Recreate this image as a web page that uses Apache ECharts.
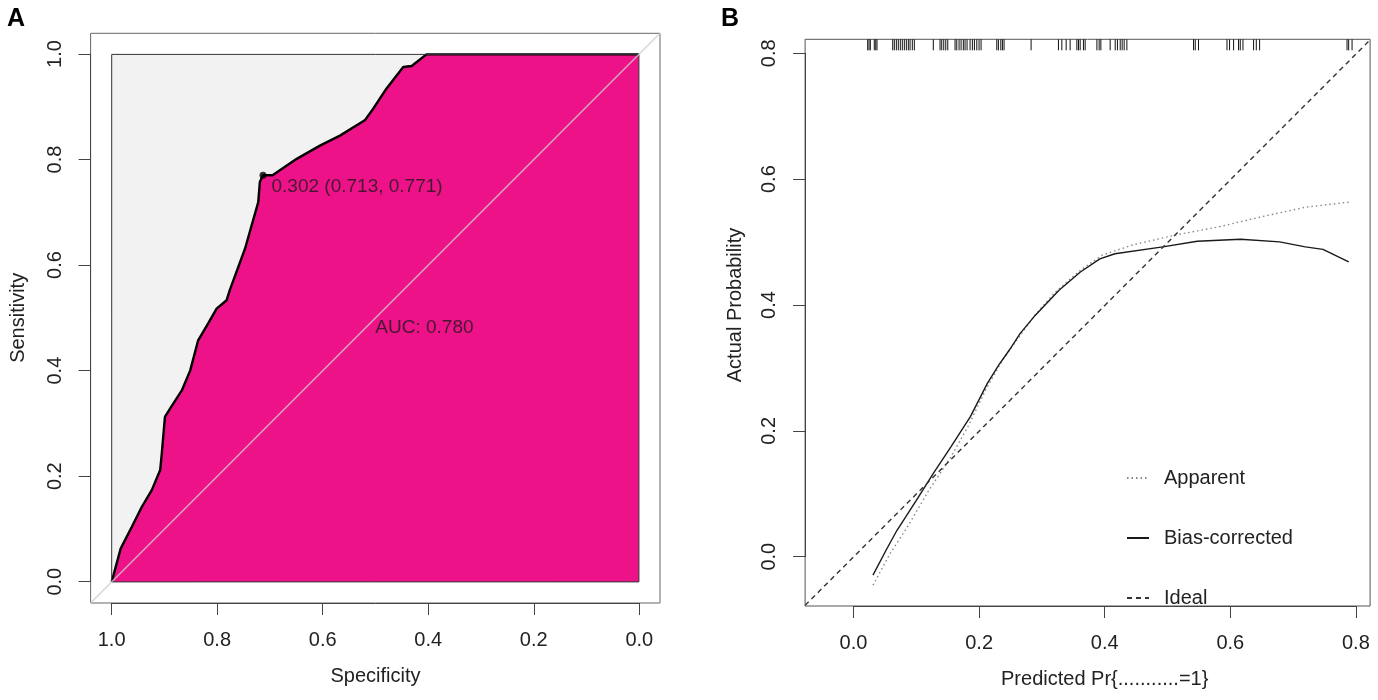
<!DOCTYPE html>
<html><head><meta charset="utf-8">
<script src="https://cdn.jsdelivr.net/npm/echarts@6/dist/echarts.min.js"></script>
<style>html,body{margin:0;padding:0;background:#fff}#c{width:1378px;height:700px}</style>
</head><body><div id="c"></div>
<script>
// ---------- Panel A: ROC ----------
const rocSpecificity = [1.000,0.983,0.962,0.943,0.924,0.908,0.905,0.899,0.889,0.867,0.851,0.836,0.817,0.801,0.782,0.776,0.747,0.722,0.719,0.713,0.695,0.649,0.605,0.567,0.520,0.504,0.479,0.447,0.431,0.403,0.000];
const rocSensitivity = [0.000,0.063,0.104,0.142,0.174,0.212,0.243,0.313,0.329,0.363,0.401,0.458,0.490,0.518,0.534,0.553,0.632,0.720,0.758,0.771,0.771,0.802,0.827,0.846,0.875,0.897,0.935,0.976,0.978,1.000,1.000];
const bestSpec = 0.713, bestSens = 0.771, bestLabel = '0.302 (0.713, 0.771)';
const aucLabel = 'AUC: 0.780';
const aucPos = [0.5, 0.5];
const rocTicks = [0, 0.2, 0.4, 0.6, 0.8, 1.0];
const rocTickLabels = ['0.0','0.2','0.4','0.6','0.8','1.0'];
const rocLim = [-0.04, 1.04];

// ---------- Panel B: calibration ----------
const apparentX = [0.031,0.058,0.086,0.120,0.155,0.182,0.210,0.237,0.265,0.290,0.320,0.360,0.396,0.444,0.513,0.582,0.650,0.719,0.788];
const apparentY = [-0.045,0.005,0.048,0.106,0.159,0.207,0.265,0.313,0.352,0.386,0.420,0.455,0.480,0.496,0.512,0.525,0.541,0.556,0.564];
const biasX = [0.031,0.052,0.069,0.100,0.127,0.155,0.186,0.213,0.231,0.248,0.265,0.289,0.327,0.361,0.392,0.416,0.492,0.547,0.616,0.678,0.719,0.747,0.788];
const biasY = [-0.029,0.011,0.042,0.090,0.133,0.175,0.223,0.276,0.305,0.329,0.355,0.384,0.424,0.453,0.474,0.482,0.493,0.502,0.505,0.501,0.493,0.489,0.469];
const rugPred = [0.0226,0.0247,0.0268,0.0331,0.0354,0.0374,
  0.0624,0.065,0.0682,0.0713,0.0745,0.0777,0.0809,0.0841,0.0873,0.090,0.0936,0.0968,
  0.127,0.1377,0.1404,0.1436,0.1468,0.150,0.1616,0.1643,0.168,0.1712,0.1748,0.1775,0.1807,0.1855,0.1892,0.1924,0.1962,0.1998,0.203,
  0.228,0.2306,0.2344,0.237,0.2396,0.2826,
  0.3261,0.3315,0.3384,0.3447,0.3554,0.358,0.3607,0.3659,0.3686,0.3873,0.3909,0.3936,0.4084,0.4164,0.42,0.4244,0.4275,0.4307,0.435,
  0.5411,0.5438,0.549,0.5943,0.5984,0.6048,0.6127,0.6154,0.6197,0.6366,0.6409,0.6462,0.7853,0.7879,0.7933];
const calTicks = [0, 0.2, 0.4, 0.6, 0.8];
const calTickLabels = ['0.0','0.2','0.4','0.6','0.8'];
const calXLim = [-0.077, 0.822];
const calYLim = [-0.078, 0.823];
const legendNames = ['Apparent','Bias-corrected','Ideal'];

const FONT = "'Liberation Sans', Arial, sans-serif";
const TXT = '#222';
const zip = (a, b) => a.map((v, i) => [v, b[i]]);
const tickFmt = (ticks, labels) => v => {
  const i = ticks.findIndex(t => Math.abs(t - v) < 1e-9);
  return i >= 0 ? labels[i] : '';
};

const tickAxis = (grid, ticks, labels, extra) => Object.assign({
  gridIndex: grid, type: 'value', min: ticks[0], max: ticks[ticks.length - 1],
  interval: ticks[1] - ticks[0],
  axisLine: {show: true, onZero: false, lineStyle: {color: '#444', width: 1}},
  axisTick: {show: true, length: 12, lineStyle: {color: '#444', width: 1}},
  splitLine: {show: false},
  nameLocation: 'middle',
  nameTextStyle: {fontSize: 20, color: TXT, fontFamily: FONT}
}, extra);
const lab = (ticks, labels, margin, rotate) => ({fontSize: 20, color: TXT, fontFamily: FONT, margin: margin, rotate: rotate || 0,
  formatter: tickFmt(ticks, labels), showMinLabel: true, showMaxLabel: true});

const option = {
  animation: false,
  textStyle: {fontFamily: FONT},
  title: [
    {text: 'A', left: 2, top: 2, textStyle: {fontSize: 25, fontWeight: 'bold', color: '#000', fontFamily: FONT}},
    {text: 'B', left: 716, top: 2, textStyle: {fontSize: 25, fontWeight: 'bold', color: '#000', fontFamily: FONT}}
  ],
  grid: [
    {left: 90.6, top: 33.3, width: 569.4, height: 569.7, show: true, borderColor: '#666', borderWidth: 1, backgroundColor: 'transparent'},
    {left: 111.6, top: 54, width: 527.7, height: 527.7},
    {left: 805.1, top: 39.3, width: 565, height: 566.7, show: true, borderColor: '#555', borderWidth: 1, backgroundColor: 'transparent'},
    {left: 853.5, top: 53.3, width: 502.4, height: 503.4}
  ],
  xAxis: [
    {gridIndex: 0, type: 'value', min: rocLim[0], max: rocLim[1], inverse: true, show: false},
    tickAxis(1, rocTicks, rocTickLabels, {inverse: true, position: 'bottom', offset: 21.3, name: 'Specificity', nameGap: 63,
      axisLabel: lab(rocTicks, rocTickLabels, 27)}),
    {gridIndex: 2, type: 'value', min: calXLim[0], max: calXLim[1], show: false},
    tickAxis(3, calTicks, calTickLabels, {position: 'bottom', offset: 49.3, name: 'Predicted Pr{...........=1}', nameGap: 63,
      axisLabel: lab(calTicks, calTickLabels, 27)})
  ],
  yAxis: [
    {gridIndex: 0, type: 'value', min: rocLim[0], max: rocLim[1], show: false},
    tickAxis(1, rocTicks, rocTickLabels, {position: 'left', offset: 21, name: 'Sensitivity', nameGap: 62,
      axisLabel: lab(rocTicks, rocTickLabels, 25, 90)}),
    {gridIndex: 2, type: 'value', min: calYLim[0], max: calYLim[1], show: false},
    tickAxis(3, calTicks, calTickLabels, {position: 'left', offset: 48.4, name: 'Actual Probability', nameGap: 60,
      axisLabel: lab(calTicks, calTickLabels, 26, 90)})
  ],
  legend: {
    data: legendNames, orient: 'vertical', left: 1121, top: 463, itemGap: 40,
    itemWidth: 22, itemHeight: 14, selectedMode: false,
    itemStyle: {opacity: 0},
    textStyle: {fontSize: 20, color: TXT, fontFamily: FONT, padding: [0, 0, 0, 10]}
  },
  series: [
    {type: 'line', xAxisIndex: 0, yAxisIndex: 0, z: 1, silent: true, symbol: 'none',
      data: [[1, 1], [0, 1]], lineStyle: {width: 0}, areaStyle: {color: '#f2f2f2', opacity: 1}},
    {type: 'line', name: 'ROC', xAxisIndex: 0, yAxisIndex: 0, z: 2, silent: true, symbol: 'none',
      data: zip(rocSpecificity, rocSensitivity),
      lineStyle: {color: '#000', width: 2.4}, areaStyle: {color: '#EE1289', opacity: 1}},
    {type: 'line', xAxisIndex: 0, yAxisIndex: 0, z: 3, silent: true, symbol: 'none',
      data: [[1, 0], [1, 1], [0, 1], [0, 0], [1, 0]], lineStyle: {color: '#333', width: 1}},
    {type: 'line', xAxisIndex: 0, yAxisIndex: 0, z: 4, silent: true, symbol: 'none',
      data: [[rocLim[1], rocLim[0]], [rocLim[0], rocLim[1]]], lineStyle: {color: 'rgba(205,205,205,0.8)', width: 1.5}},
    {type: 'scatter', xAxisIndex: 0, yAxisIndex: 0, z: 5, silent: true, symbolSize: 7,
      itemStyle: {color: '#000'}, data: [[bestSpec, bestSens]],
      label: {show: true, position: 'right', distance: 5, offset: [0, 12], formatter: bestLabel, fontSize: 19, color: '#1a1a1a', fontFamily: FONT}},
    {type: 'scatter', xAxisIndex: 0, yAxisIndex: 0, z: 5, silent: true, symbolSize: 0,
      data: [aucPos],
      label: {show: true, position: [0, 0], align: 'left', verticalAlign: 'top', formatter: aucLabel, fontSize: 19, color: '#1a1a1a', fontFamily: FONT}},
    {type: 'custom', xAxisIndex: 2, yAxisIndex: 2, z: 3, silent: true,
      data: rugPred.map(v => [v, calYLim[1]]),
      renderItem: (params, api) => {
        const p = api.coord([api.value(0), api.value(1)]);
        return {type: 'line', shape: {x1: p[0], y1: p[1], x2: p[0], y2: p[1] + 11}, style: {stroke: '#111', lineWidth: 1}};
      }},
    {type: 'line', name: 'Apparent', xAxisIndex: 2, yAxisIndex: 2, z: 4, silent: true, symbol: 'none',
      data: zip(apparentX, apparentY), lineStyle: {color: '#888', width: 1.4, type: [1.5, 3]}, itemStyle: {color: '#888'}},
    {type: 'line', name: 'Bias-corrected', xAxisIndex: 2, yAxisIndex: 2, z: 4, silent: true, symbol: 'none',
      data: zip(biasX, biasY), lineStyle: {color: '#1a1a1a', width: 1.4}, itemStyle: {color: '#1a1a1a'}},
    {type: 'line', name: 'Ideal', xAxisIndex: 2, yAxisIndex: 2, z: 4, silent: true, symbol: 'none',
      data: [[calXLim[0], calXLim[0]], [calXLim[1], calXLim[1]]], lineStyle: {color: '#333', width: 1.4, type: [5, 4]}, itemStyle: {color: '#333'}}
  ]
};
const chart = echarts.init(document.getElementById('c'), null, {renderer: 'canvas'});
chart.setOption(option);
</script></body></html>
